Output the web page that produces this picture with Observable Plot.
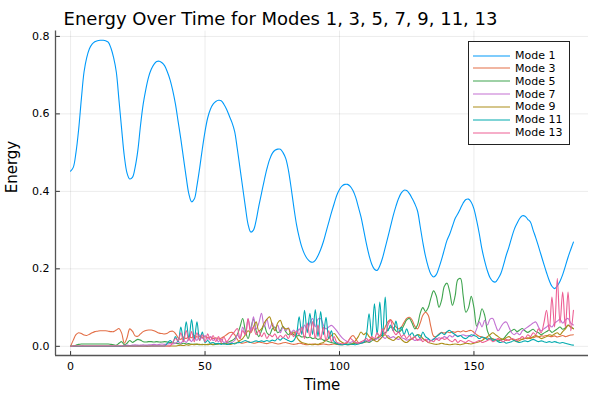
<!DOCTYPE html>
<html>
<head>
<meta charset="utf-8">
<script src="https://cdn.jsdelivr.net/npm/d3@7"></script>
<script src="https://cdn.jsdelivr.net/npm/@observablehq/plot@0.6"></script>
<style>
  body { margin: 0; background: #fff; }
  #wrap { position: relative; width: 600px; height: 400px; font-family: "DejaVu Sans", sans-serif; }
  #legend { position: absolute; left: 468px; top: 41px; width: 102px; height: 104px; border: 1px solid #222; background: #fff; box-sizing: border-box; }
  .row { position: absolute; left: 4px; height: 12px; display: flex; align-items: center; font-size: 11px; color: #000; white-space: nowrap; }
  .row svg { margin-right: 5px; }
</style>
</head>
<body>
<div id="wrap"><div id="legend"></div></div>
<script>
const title = "Energy Over Time for Modes 1, 3, 5, 7, 9, 11, 13";
const modes = ["Mode 1", "Mode 3", "Mode 5", "Mode 7", "Mode 9", "Mode 11", "Mode 13"];
const colors = ["#009AFA", "#E36F47", "#3EA44E", "#C371D2", "#AC8E18", "#00AAAE", "#ED5E93"];
const xTicks = [0, 50, 100, 150];
const yTicks = [0, 0.2, 0.4, 0.6, 0.8];
const time = d3.range(0, 188);

const mode1 = [
0.452,0.462,0.50,0.56,0.638,0.708,0.745,0.768,0.780,0.786,
0.789,0.790,0.790,0.789,0.785,0.770,0.745,0.708,0.635,0.56,
0.49,0.447,0.432,0.436,0.462,0.505,0.57,0.625,0.664,0.695,
0.715,0.728,0.735,0.736,0.732,0.724,0.708,0.688,0.660,0.625,
0.580,0.535,0.485,0.436,0.393,0.373,0.380,0.415,0.460,0.51,
0.555,0.590,0.612,0.625,0.632,0.635,0.634,0.625,0.612,0.595,
0.578,0.555,0.51,0.46,0.41,0.36,0.315,0.295,0.300,0.325,
0.362,0.395,0.428,0.458,0.482,0.498,0.506,0.509,0.509,0.500,
0.485,0.455,0.41,0.36,0.315,0.282,0.256,0.238,0.226,0.219,
0.217,0.222,0.234,0.250,0.27,0.295,0.32,0.345,0.368,0.39,
0.405,0.414,0.418,0.418,0.413,0.402,0.385,0.36,0.334,0.30,
0.265,0.235,0.212,0.199,0.196,0.208,0.228,0.255,0.282,0.31,
0.338,0.362,0.382,0.396,0.403,0.402,0.394,0.382,0.368,0.35,
0.31,0.268,0.232,0.205,0.186,0.179,0.185,0.203,0.225,0.25,
0.274,0.29,0.31,0.33,0.342,0.356,0.37,0.379,0.38,0.372,
0.355,0.325,0.29,0.25,0.22,0.195,0.177,0.168,0.166,0.175,
0.188,0.21,0.235,0.256,0.28,0.302,0.317,0.33,0.337,0.336,
0.328,0.321,0.3,0.28,0.258,0.235,0.212,0.19,0.17,0.155,
0.149,0.156,0.168,0.185,0.207,0.23,0.25,0.269];

const mode3 = [
0,0.016,0.03,0.035,0.033,0.029,0.028,0.031,0.035,0.038,
0.039,0.04,0.04,0.04,0.039,0.038,0.038,0.042,0.046,0.034,
0.008,0.022,0.045,0.039,0.027,0.026,0.032,0.038,0.041,0.042,
0.042,0.04,0.037,0.034,0.033,0.032,0.034,0.038,0.039,0.033,
0.022,0.018,0.024,0.02,0.026,0.022,0.028,0.024,0.026,0.023,
0.025,0.022,0.024,0.02,0.022,0.019,0.021,0.025,0.03,0.035,
0.036,0.03,0.018,0.01,0.008,0.01,0.012,0.01,0.008,0.009,
0.011,0.01,0.008,0.007,0.009,0.01,0.008,0.006,0.007,0.009,
0.01,0.008,0.006,0.005,0.006,0.008,0.007,0.005,0.004,0.005,
0.006,0.005,0.004,0.005,0.006,0.005,0.004,0.005,0.006,0.005,
0.004,0.005,0.006,0.01,0.022,0.028,0.02,0.01,0.008,0.01,
0.012,0.015,0.02,0.018,0.022,0.028,0.035,0.05,0.063,0.069,
0.06,0.05,0.045,0.05,0.062,0.072,0.075,0.068,0.052,0.045,
0.06,0.08,0.088,0.08,0.05,0.026,0.025,0.032,0.036,0.034,
0.037,0.035,0.038,0.036,0.039,0.037,0.04,0.038,0.04,0.041,
0.036,0.03,0.026,0.024,0.02,0.022,0.018,0.02,0.017,0.019,
0.016,0.018,0.015,0.017,0.019,0.016,0.018,0.02,0.018,0.021,
0.02,0.023,0.022,0.025,0.024,0.027,0.026,0.028,0.026,0.025,
0.027,0.024,0.026,0.028,0.025,0.027,0.029,0.03];

const mode5 = [
0,0.001,0.003,0.005,0.006,0.006,0.006,0.006,0.006,0.006,
0.006,0.006,0.006,0.006,0.006,0.005,0.004,0.003,0.008,0.012,
0.004,0.008,0.015,0.01,0.014,0.018,0.016,0.012,0.011,0.012,
0.012,0.011,0.012,0.011,0.011,0.012,0.011,0.01,0.009,0.008,
0.007,0.006,0.008,0.006,0.007,0.005,0.006,0.005,0.004,0.005,
0.004,0.005,0.006,0.004,0.005,0.006,0.008,0.007,0.009,0.012,
0.015,0.02,0.03,0.05,0.072,0.04,0.02,0.045,0.07,0.04,
0.025,0.04,0.055,0.035,0.03,0.045,0.05,0.035,0.04,0.052,
0.038,0.03,0.036,0.03,0.026,0.028,0.024,0.026,0.022,0.024,
0.02,0.022,0.018,0.02,0.016,0.015,0.012,0.01,0.008,0.006,
0.005,0.004,0.005,0.006,0.005,0.006,0.008,0.007,0.009,0.01,
0.012,0.01,0.014,0.018,0.02,0.025,0.03,0.035,0.042,0.05,
0.048,0.04,0.036,0.042,0.055,0.068,0.072,0.06,0.045,0.055,
0.085,0.1,0.09,0.1,0.125,0.143,0.13,0.101,0.12,0.155,
0.163,0.14,0.106,0.13,0.172,0.175,0.13,0.088,0.1,0.129,
0.1,0.052,0.07,0.097,0.08,0.04,0.025,0.018,0.015,0.014,
0.016,0.02,0.028,0.036,0.04,0.044,0.038,0.042,0.046,0.04,
0.036,0.04,0.044,0.038,0.035,0.03,0.034,0.038,0.042,0.036,
0.04,0.045,0.05,0.044,0.048,0.055,0.05,0.046];

const mode7 = [
0,0,0,0,0.001,0.001,0.001,0.001,0.001,0.001,
0.001,0.001,0.001,0.001,0.001,0.001,0.001,0.001,0.001,0.001,
0.002,0.003,0.002,0.003,0.004,0.003,0.003,0.004,0.003,0.004,
0.004,0.005,0.004,0.005,0.006,0.005,0.006,0.007,0.006,0.008,
0.012,0.008,0.015,0.01,0.02,0.012,0.025,0.015,0.03,0.02,
0.028,0.018,0.025,0.015,0.02,0.012,0.018,0.01,0.012,0.008,
0.01,0.015,0.03,0.02,0.05,0.03,0.072,0.04,0.076,0.045,
0.06,0.085,0.05,0.07,0.045,0.06,0.04,0.055,0.035,0.05,
0.04,0.048,0.035,0.042,0.03,0.045,0.035,0.055,0.04,0.06,
0.072,0.05,0.07,0.072,0.055,0.045,0.05,0.054,0.048,0.04,
0.03,0.022,0.016,0.012,0.01,0.012,0.01,0.008,0.01,0.012,
0.015,0.012,0.018,0.015,0.02,0.018,0.025,0.02,0.028,0.022,
0.025,0.02,0.018,0.022,0.02,0.016,0.018,0.02,0.015,0.018,
0.016,0.02,0.015,0.018,0.014,0.02,0.018,0.022,0.02,0.025,
0.022,0.028,0.024,0.03,0.026,0.028,0.03,0.027,0.028,0.025,
0.03,0.045,0.063,0.05,0.067,0.055,0.07,0.072,0.055,0.04,
0.05,0.06,0.063,0.05,0.035,0.03,0.035,0.03,0.04,0.045,
0.05,0.055,0.06,0.063,0.05,0.04,0.045,0.05,0.055,0.05,
0.06,0.065,0.07,0.06,0.068,0.072,0.06,0.055];

const mode9 = [
0,0,0,0,0,0,0,0,0,0,
0,0,0,0,0,0,0,0,0,0,
0,0,0,0,0,0,0,0,0,0,
0.001,0.001,0.001,0.001,0.001,0.001,0.001,0.001,0.001,0.001,
0.002,0.003,0.002,0.004,0.003,0.005,0.004,0.006,0.005,0.004,
0.005,0.004,0.006,0.005,0.007,0.006,0.008,0.006,0.007,0.005,
0.006,0.008,0.01,0.015,0.02,0.03,0.04,0.035,0.05,0.063,
0.04,0.045,0.06,0.07,0.076,0.055,0.04,0.06,0.067,0.05,
0.045,0.046,0.03,0.037,0.025,0.015,0.01,0.008,0.006,0.005,
0.004,0.006,0.005,0.008,0.01,0.015,0.02,0.028,0.033,0.025,
0.015,0.01,0.006,0.004,0.005,0.008,0.015,0.025,0.037,0.03,
0.035,0.025,0.02,0.015,0.012,0.018,0.025,0.03,0.022,0.018,
0.015,0.02,0.025,0.018,0.012,0.01,0.015,0.02,0.025,0.03,
0.028,0.02,0.015,0.01,0.008,0.006,0.005,0.006,0.008,0.006,
0.005,0.004,0.005,0.006,0.005,0.004,0.006,0.008,0.007,0.006,
0.008,0.01,0.012,0.015,0.02,0.025,0.03,0.035,0.03,0.025,
0.02,0.018,0.022,0.025,0.02,0.015,0.012,0.015,0.018,0.02,
0.022,0.02,0.025,0.028,0.025,0.02,0.022,0.025,0.03,0.028,
0.032,0.035,0.03,0.038,0.045,0.054,0.05,0.045];

const mode11 = [
0,0,0,0,0,0,0,0,0,0,
0,0,0,0,0,0,0,0,0,0,
0.001,0.001,0.001,0.001,0.001,0.001,0.001,0.001,0.001,0.001,
0.001,0.001,0.001,0.001,0.001,0.001,0.008,0.015,0.01,0.025,
0.012,0.05,0.015,0.063,0.02,0.069,0.018,0.063,0.015,0.037,
0.01,0.015,0.008,0.01,0.006,0.008,0.005,0.007,0.005,0.006,
0.008,0.006,0.009,0.01,0.012,0.015,0.012,0.01,0.012,0.014,
0.012,0.014,0.012,0.015,0.013,0.016,0.014,0.02,0.016,0.022,
0.018,0.015,0.012,0.015,0.03,0.076,0.03,0.093,0.035,0.085,
0.03,0.095,0.025,0.09,0.03,0.075,0.02,0.04,0.012,0.008,
0.005,0.004,0.005,0.004,0.006,0.005,0.004,0.006,0.008,0.01,
0.03,0.084,0.025,0.11,0.03,0.114,0.025,0.127,0.04,0.055,
0.04,0.065,0.035,0.05,0.03,0.045,0.028,0.035,0.025,0.03,
0.02,0.037,0.025,0.02,0.015,0.018,0.025,0.03,0.035,0.03,
0.038,0.041,0.035,0.03,0.025,0.028,0.022,0.02,0.025,0.03,
0.028,0.025,0.02,0.024,0.022,0.018,0.02,0.015,0.018,0.012,
0.01,0.012,0.008,0.01,0.012,0.015,0.012,0.01,0.012,0.014,
0.012,0.015,0.018,0.015,0.012,0.014,0.012,0.01,0.012,0.01,
0.012,0.01,0.008,0.01,0.008,0.006,0.004,0.003];

const mode13 = [
0,0.001,0.001,0.001,0.001,0.001,0.001,0.001,0.001,0.001,
0.001,0.001,0.001,0.001,0.001,0.001,0.001,0.001,0.001,0.001,
0.001,0.001,0.001,0.001,0.001,0.001,0.001,0.001,0.001,0.001,
0.001,0.001,0.001,0.001,0.001,0.001,0.001,0.001,0.01,0.02,
0.015,0.035,0.012,0.041,0.015,0.038,0.012,0.035,0.015,0.03,
0.012,0.032,0.015,0.028,0.012,0.025,0.01,0.024,0.012,0.02,
0.03,0.038,0.046,0.02,0.04,0.03,0.071,0.035,0.05,0.03,
0.04,0.025,0.035,0.02,0.03,0.025,0.032,0.02,0.028,0.022,
0.03,0.02,0.035,0.025,0.04,0.03,0.05,0.02,0.06,0.025,
0.064,0.02,0.055,0.018,0.05,0.015,0.04,0.012,0.025,0.01,
0.008,0.006,0.008,0.012,0.02,0.015,0.01,0.008,0.012,0.015,
0.02,0.015,0.025,0.02,0.035,0.025,0.045,0.03,0.055,0.067,
0.04,0.03,0.038,0.025,0.03,0.02,0.028,0.018,0.025,0.015,
0.02,0.012,0.018,0.01,0.015,0.012,0.02,0.015,0.022,0.018,
0.02,0.015,0.012,0.018,0.01,0.015,0.012,0.01,0.015,0.012,
0.01,0.012,0.015,0.01,0.012,0.015,0.018,0.012,0.015,0.02,
0.015,0.012,0.018,0.015,0.02,0.018,0.015,0.02,0.025,0.02,
0.03,0.025,0.035,0.03,0.045,0.035,0.06,0.093,0.04,0.127,
0.05,0.175,0.06,0.14,0.05,0.14,0.04,0.093];

const series = [mode1, mode3, mode5, mode7, mode9, mode11, mode13];
const xDomain = [-5.61, 192.6];
const yDomain = [-0.0237, 0.8137];

const lineMarks = series.map((vals, i) => {
  const rows = vals.map((v, j) => ({t: time[j], e: v})).filter(d => d.t !== undefined);
  return Plot.lineY(rows, {x: "t", y: "e", stroke: colors[i], strokeWidth: 1.1, curve: "catmull-rom"});
});

const tickShape = {draw(context, l) { context.moveTo(0, 0); context.lineTo(0, -l); }};

const chart = Plot.plot({
  width: 600,
  height: 400,
  marginLeft: 55,
  marginRight: 12,
  marginTop: 30.6,
  marginBottom: 45,
  style: {fontFamily: "DejaVu Sans, sans-serif", fontSize: "11px", color: "#000", background: "#fff"},
  x: {domain: xDomain},
  y: {domain: yDomain},
  marks: [
    Plot.gridX(xTicks, {stroke: "#000", strokeOpacity: 0.08, strokeWidth: 1}),
    Plot.gridY(yTicks, {stroke: "#000", strokeOpacity: 0.08, strokeWidth: 1}),
    Plot.axisX(xTicks, {tickSize: 0, tickPadding: 7, label: null, tickFormat: d3.format("d"), fontSize: 11}),
    Plot.axisY(yTicks, {tickSize: 0, tickPadding: 6, label: null, tickFormat: d3.format(".1f"), fontSize: 11}),
    Plot.vector(xTicks, {x: d => d, y: () => yDomain[0], length: 4, rotate: 0, anchor: "start", shape: tickShape, stroke: "#333", strokeWidth: 1}),
    Plot.vector(yTicks, {x: () => xDomain[0], y: d => d, length: 4, rotate: 90, anchor: "start", shape: tickShape, stroke: "#333", strokeWidth: 1}),
    ...lineMarks,
    Plot.ruleX([xDomain[0]], {stroke: "#555", strokeWidth: 1.3}),
    Plot.ruleY([yDomain[0]], {stroke: "#555", strokeWidth: 1.3}),
    Plot.text([title], {frameAnchor: "top", dy: -18.6, dx: -41.5, text: d => d, fontSize: 18, fill: "#000"}),
    Plot.text(["Time"], {frameAnchor: "bottom", dy: 34, text: d => d, fontSize: 15, fill: "#000"}),
    Plot.text(["Energy"], {frameAnchor: "left", dx: -43, rotate: -90, text: d => d, fontSize: 15, fill: "#000"})
  ]
});

const wrap = document.getElementById("wrap");
wrap.insertBefore(chart, wrap.firstChild);

const legend = document.getElementById("legend");
modes.forEach((m, i) => {
  const row = document.createElement("div");
  row.className = "row";
  row.style.top = (7.5 + i * 12.85) + "px";
  row.innerHTML = `<svg width="37" height="4"><line x1="0" x2="37" y1="2" y2="2" stroke="${colors[i]}" stroke-width="1.2"/></svg><span>${m}</span>`;
  legend.appendChild(row);
});
</script>
</body>
</html>
